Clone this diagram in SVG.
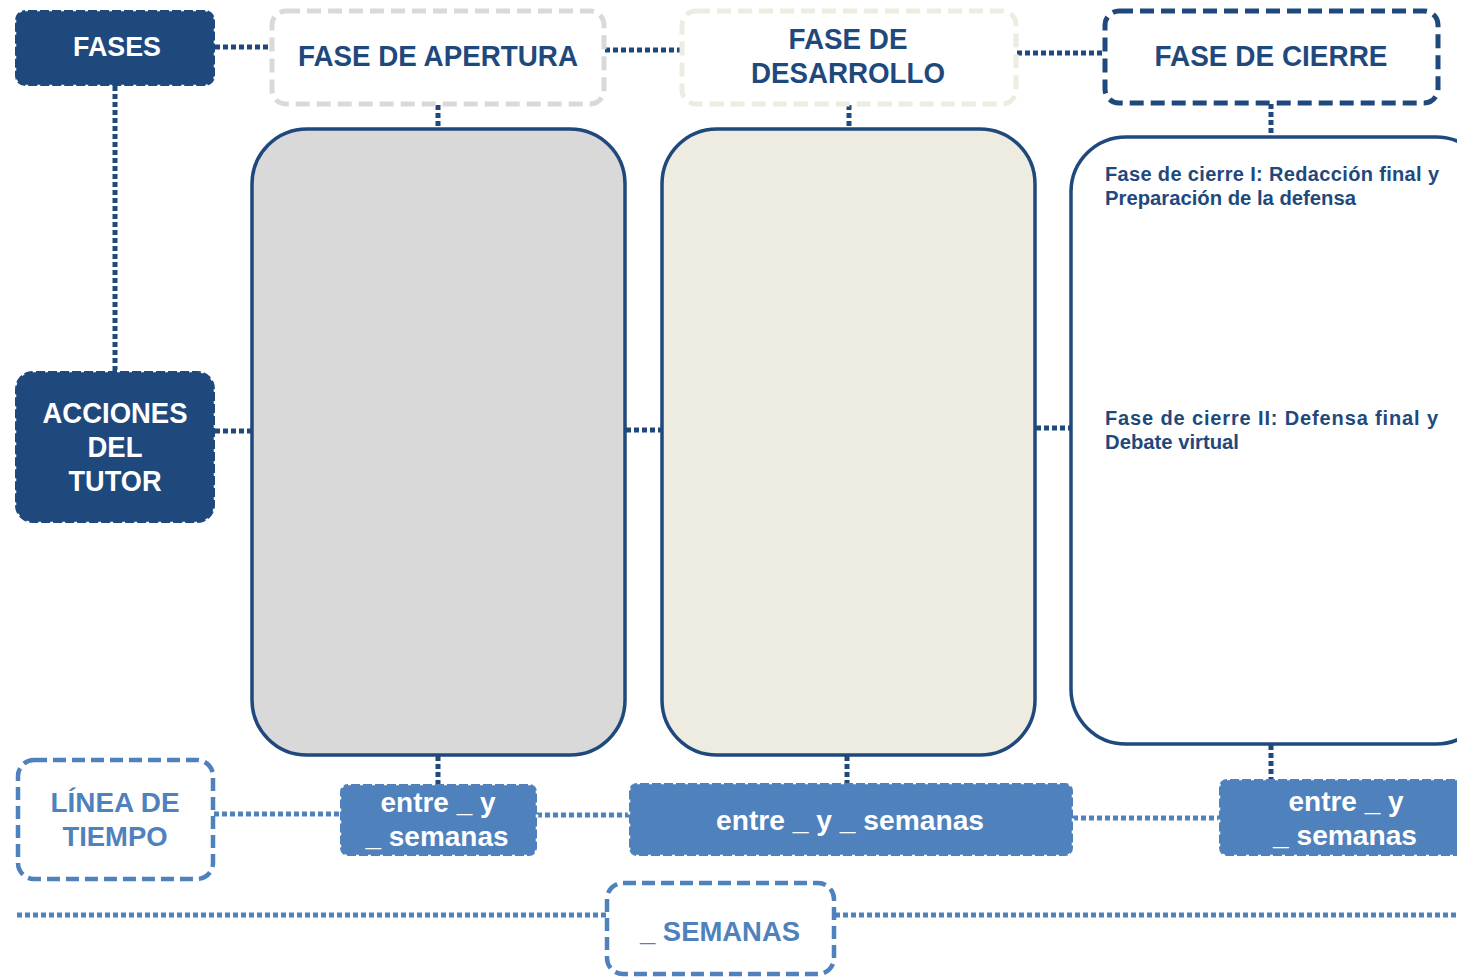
<svg xmlns="http://www.w3.org/2000/svg" width="1457" height="980" viewBox="0 0 1457 980">
<style>
.dk{fill:#1f497d}
.notch{fill:none;stroke:#fff;stroke-width:2.5;stroke-dasharray:3 9}
.hd{fill:#fff;stroke-width:5;stroke-dasharray:14 7}
.big{stroke:#1f497d;stroke-width:3.5}
.t{font-family:"Liberation Sans",Arial,sans-serif;font-weight:bold;text-anchor:middle}
.w{fill:#fff}
.b{fill:#1f497d}
.m{fill:#4f81bd}
.lb{fill:#4f81bd}
.s{font-family:"Liberation Sans",Arial,sans-serif;font-weight:bold;font-size:20px;fill:#1f497d}
.cd{fill:none;stroke:#1f497d;stroke-width:5;stroke-dasharray:5 3}
.cm{fill:none;stroke:#4f81bd;stroke-width:5;stroke-dasharray:5 3}
</style>
<rect width="1457" height="980" fill="#fff"/>
<g id="connectors">
<line class="cd" x1="215" y1="47" x2="271" y2="47"/>
<line class="cd" x1="605" y1="50" x2="681" y2="50"/>
<line class="cd" x1="1017" y1="53" x2="1104" y2="53"/>
<line class="cd" x1="115" y1="86" x2="115" y2="371"/>
<line class="cd" x1="438" y1="105" x2="438" y2="128"/>
<line class="cd" x1="849" y1="105" x2="849" y2="128"/>
<line class="cd" x1="1271" y1="104" x2="1271" y2="136"/>
<line class="cd" x1="215" y1="431" x2="251" y2="431"/>
<line class="cd" x1="626" y1="430" x2="661" y2="430"/>
<line class="cd" x1="1036" y1="428" x2="1070" y2="428"/>
<line class="cd" x1="438" y1="756" x2="438" y2="784"/>
<line class="cd" x1="847" y1="756" x2="847" y2="783"/>
<line class="cd" x1="1271" y1="745" x2="1271" y2="779"/>
<line class="cm" x1="214" y1="814" x2="340" y2="814"/>
<line class="cm" x1="537" y1="815" x2="629" y2="815"/>
<line class="cm" x1="1073" y1="818" x2="1219" y2="818"/>
<line class="cm" x1="17" y1="915" x2="606" y2="915" stroke-width="4"/>
<line class="cm" x1="835" y1="915" x2="1457" y2="915" stroke-width="4"/>
</g>
<g id="fases">
<rect class="dk" x="15" y="10" width="200" height="76" rx="10"/>
<rect class="notch" x="15" y="10" width="200" height="76" rx="10"/>
<text class="t w" x="117" y="56" font-size="28" textLength="88" lengthAdjust="spacingAndGlyphs">FASES</text>
</g>
<g id="fase-apertura">
<rect class="hd" x="272" y="11" width="332" height="93" rx="14" stroke="#d9d9d9"/>
<text class="t b" x="438" y="66" font-size="29" textLength="280" lengthAdjust="spacingAndGlyphs">FASE DE APERTURA</text>
</g>
<g id="fase-desarrollo">
<rect class="hd" x="682" y="11" width="334" height="93" rx="14" stroke="#eeece1"/>
<text class="t b" x="848" y="49" font-size="29" textLength="119" lengthAdjust="spacingAndGlyphs">FASE DE</text>
<text class="t b" x="848" y="83" font-size="29" textLength="194" lengthAdjust="spacingAndGlyphs">DESARROLLO</text>
</g>
<g id="fase-cierre">
<rect class="hd" x="1105" y="11" width="333" height="92" rx="14" stroke="#1f497d"/>
<text class="t b" x="1271" y="66" font-size="29" textLength="233" lengthAdjust="spacingAndGlyphs">FASE DE CIERRE</text>
</g>
<g id="acciones">
<rect class="dk" x="15" y="371" width="200" height="152" rx="18"/>
<rect class="notch" x="15" y="371" width="200" height="152" rx="18"/>
<text class="t w" x="115" y="423" font-size="29" textLength="145" lengthAdjust="spacingAndGlyphs">ACCIONES</text>
<text class="t w" x="115" y="457" font-size="29" textLength="55" lengthAdjust="spacingAndGlyphs">DEL</text>
<text class="t w" x="115" y="491" font-size="29" textLength="93" lengthAdjust="spacingAndGlyphs">TUTOR</text>
</g>
<g id="caja-apertura">
<rect class="big" x="252" y="129" width="373" height="626" rx="55" fill="#d9d9d9"/>
</g>
<g id="caja-desarrollo">
<rect class="big" x="662" y="129" width="373" height="626" rx="55" fill="#eeece1"/>
</g>
<g id="caja-cierre">
<rect class="big" x="1071" y="137" width="420" height="607" rx="55" fill="#fff"/>
<text class="s" x="1105" y="181" textLength="334" lengthAdjust="spacing">Fase de cierre I: Redacción final y</text>
<text class="s" x="1105" y="205" textLength="251" lengthAdjust="spacingAndGlyphs">Preparación de la defensa</text>
<text class="s" x="1105" y="425" textLength="333" lengthAdjust="spacing">Fase de cierre II: Defensa final y</text>
<text class="s" x="1105" y="449" textLength="134" lengthAdjust="spacingAndGlyphs">Debate virtual</text>
</g>
<g id="linea-tiempo">
<rect x="18" y="760" width="195" height="119" rx="16" fill="#fff" stroke="#4f81bd" stroke-width="4.5" stroke-dasharray="13 6"/>
<text class="t lb" x="115" y="812" font-size="28" textLength="129" lengthAdjust="spacingAndGlyphs">LÍNEA DE</text>
<text class="t lb" x="115" y="846" font-size="28" textLength="105" lengthAdjust="spacingAndGlyphs">TIEMPO</text>
</g>
<g id="entre-1">
<rect class="m" x="340" y="784" width="197" height="72" rx="8"/>
<rect class="notch" x="340" y="784" width="197" height="72" rx="8"/>
<text class="t w" x="438" y="812" font-size="28" textLength="115" lengthAdjust="spacingAndGlyphs">entre _ y</text>
<text class="t w" x="437" y="846" font-size="28" textLength="143" lengthAdjust="spacingAndGlyphs">_ semanas</text>
</g>
<g id="entre-2">
<rect class="m" x="629" y="783" width="444" height="73" rx="8"/>
<rect class="notch" x="629" y="783" width="444" height="73" rx="8"/>
<text class="t w" x="850" y="830" font-size="28" textLength="268" lengthAdjust="spacingAndGlyphs">entre _ y _ semanas</text>
</g>
<g id="entre-3">
<rect class="m" x="1219" y="779" width="260" height="77" rx="8"/>
<rect class="notch" x="1219" y="779" width="260" height="77" rx="8"/>
<text class="t w" x="1346" y="811" font-size="28" textLength="115" lengthAdjust="spacingAndGlyphs">entre _ y</text>
<text class="t w" x="1345" y="845" font-size="28" textLength="144" lengthAdjust="spacingAndGlyphs">_ semanas</text>
</g>
<g id="semanas">
<rect x="607" y="883" width="227" height="91" rx="16" fill="#fff" stroke="#4f81bd" stroke-width="4.5" stroke-dasharray="13 6"/>
<text class="t lb" x="720" y="941" font-size="28" textLength="160" lengthAdjust="spacingAndGlyphs">_ SEMANAS</text>
</g>
</svg>
